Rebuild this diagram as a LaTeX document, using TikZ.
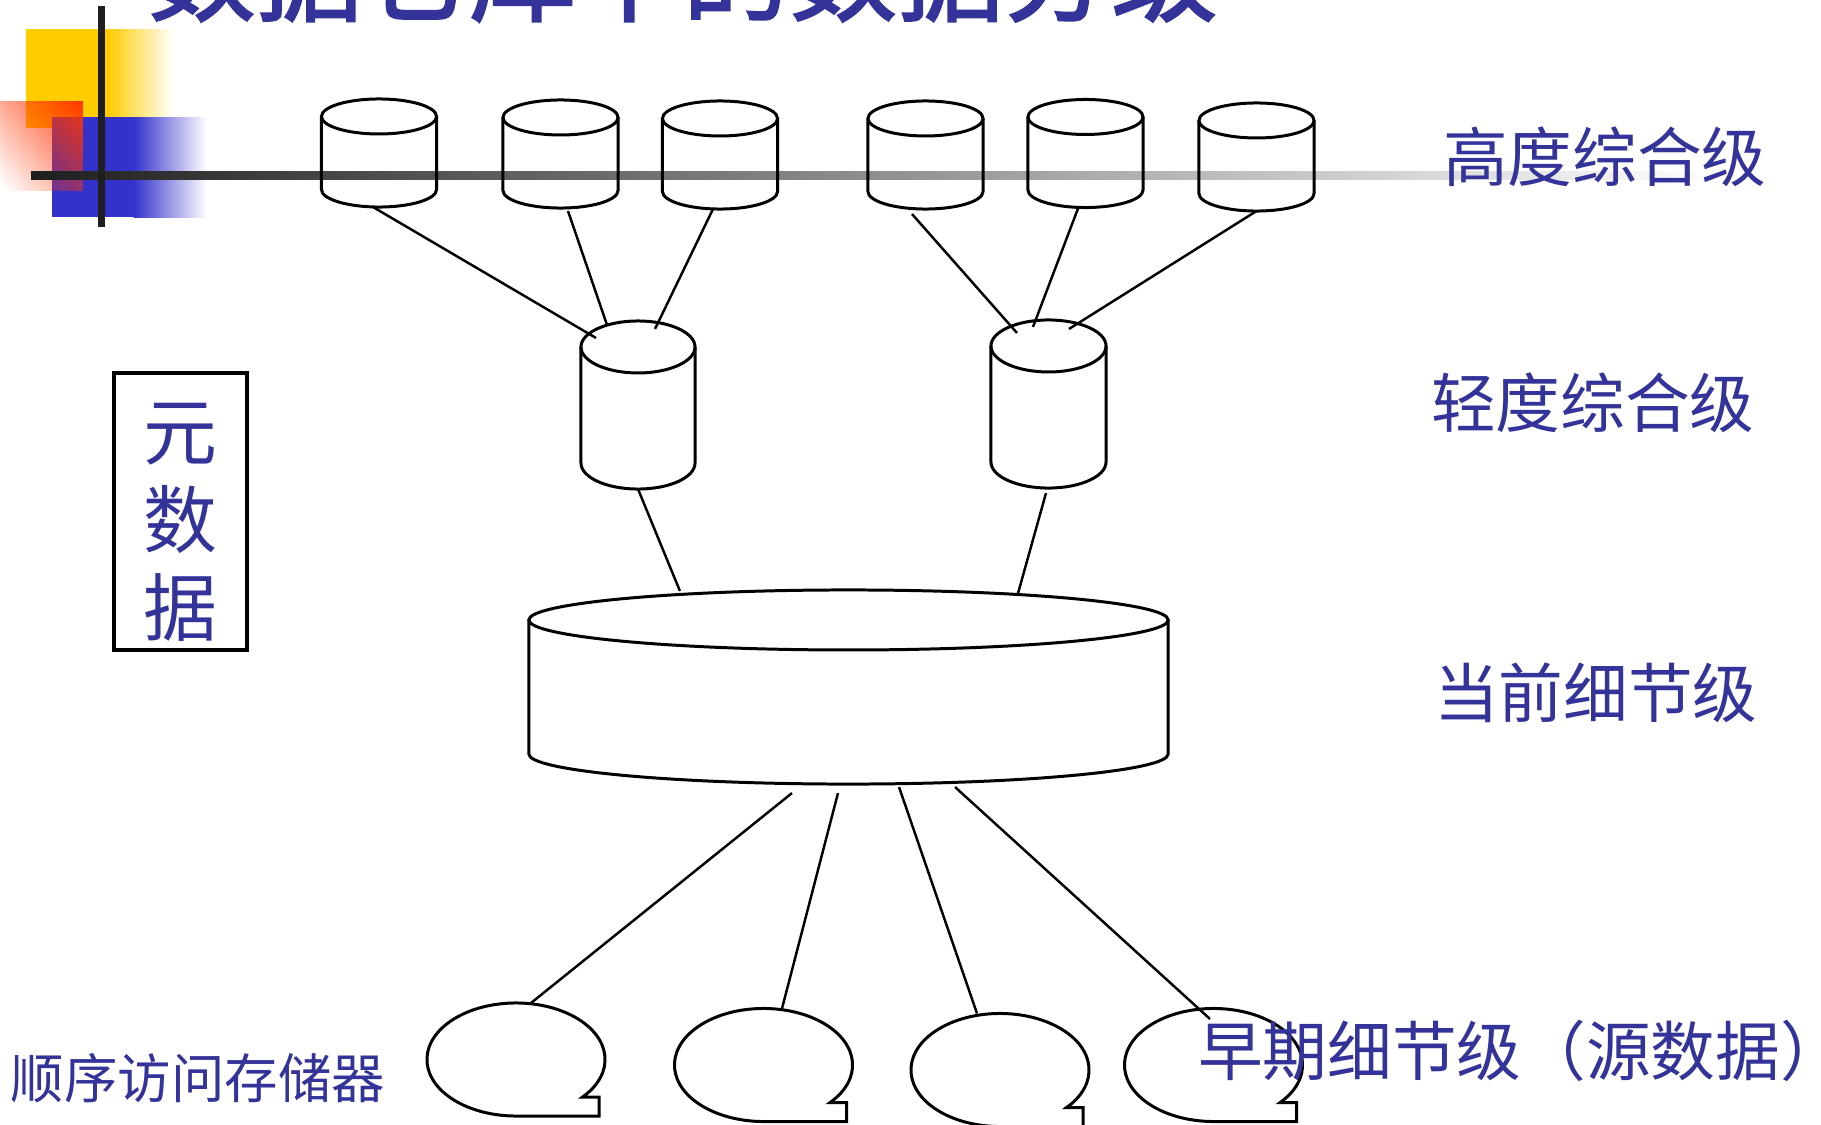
\documentclass[tikz,border=0pt]{standalone}
\usepackage{fontspec}
\setmainfont{Noto Sans CJK SC}
\newfontfamily\titlefont[FakeBold=2]{Noto Sans CJK SC}
\usetikzlibrary{shadings,fadings}

\definecolor{ink}{HTML}{333399}
\definecolor{gold}{HTML}{FFCC00}
\definecolor{royal}{HTML}{3333CC}
\definecolor{flame}{HTML}{FF3300}
\definecolor{bar}{HTML}{1F1F1F}

\tikzfading[name=redfade, upper right=transparent!0, upper left=transparent!55,
  lower right=transparent!50, lower left=transparent!100]

\tikzset{
  hold/.style={inner sep=0, outer sep=0},
  rim/.style={line width=0.85pt},
  wire/.style={line width=0.7pt},
  lvl/.style={hold, text=ink, font=\fontsize{18.4}{22}\selectfont},
}

\begin{document}
\begin{tikzpicture}[x=0.01cm, y=-0.01cm]
\useasboundingbox (0,0) rectangle (1821,1124);

\def\drum#1#2#3#4#5{
  \node[hold, minimum width=#3, minimum height=#4] (#1) at #2 {};
  \draw[rim] ([yshift=-#5]#1.north) ellipse[x radius=#3/2, y radius=#5];
  \draw[rim] ([yshift=-#5]#1.north west) -- ([yshift=#5]#1.south west)
    arc[start angle=180, end angle=360, x radius=#3/2, y radius=#5]
    -- ([yshift=-#5]#1.north east);
}
\def\tape#1#2{
  \node[hold, minimum width=1.78cm, minimum height=1.13cm] (#1) at #2 {};
  \draw[rim] (#1.south) -- ++(0.83cm,0) -- ++(0,0.19cm) -- ++(-0.1645cm,0)
    arc[start angle=-41.6, end angle=270, x radius=0.89cm, y radius=0.565cm] -- cycle;
}

% Corner decoration
\fill[gold] (26,29) rectangle (108,128);
\shade[left color=gold, right color=white] (107.5,29) rectangle (173,128);
\fill[royal] (52,117) rectangle (134,217);
\shade[left color=royal, right color=white] (133.5,117) rectangle (207,217);
\fill[flame, path fading=redfade] (0,101) rectangle (83,191);
\shade[left color=bar, right color=white] (31,171) rectangle (1720,179);
\fill[bar] (98,6) rectangle (105,227);

\node[hold, anchor=base, text=ink, font=\titlefont\fontsize{30.4}{34}\selectfont] (title) at (683,13) {数据仓库中的数据分级};

% Draw the levels
\foreach \n/\x/\y in {h1/379/153, h2/560.5/154, h3/720/155, h4/925.5/155, h5/1085.5/153.5, h6/1256.5/157}
  {\drum{\n}{(\x,\y)}{1.15cm}{1.08cm}{0.175cm}}

\drum{l1}{(638,405)}{1.14cm}{1.68cm}{0.26cm}
\drum{l2}{(1048.5,404)}{1.15cm}{1.68cm}{0.26cm}

\drum{cur}{(848.5,687)}{6.39cm}{1.94cm}{0.30cm}

\tape{t1}{(516,1059.5)}
\tape{t2}{(763.5,1065)}
\tape{t3}{(1000,1070)}
\tape{t4}{(1213.5,1065)}

\draw[wire] ([xshift=-0.06cm]h1.south) -- ([xshift=-0.42cm,yshift=-0.17cm]l1.north);
\draw[wire] ([xshift=0.075cm,yshift=-0.03cm]h2.south) -- ([xshift=-0.31cm,yshift=-0.04cm]l1.north);
\draw[wire] ([xshift=-0.07cm]h3.south) -- ([xshift=0.17cm,yshift=-0.08cm]l1.north);
\draw[wire] ([xshift=-0.135cm,yshift=-0.05cm]h4.south) -- ([xshift=-0.315cm,yshift=-0.13cm]l2.north);
\draw[wire] ([xshift=-0.075cm,yshift=-0.01cm]h5.south) -- ([xshift=-0.155cm,yshift=-0.07cm]l2.north);
\draw[wire] (h6.south) -- ([xshift=0.205cm,yshift=-0.09cm]l2.north);

\draw[wire] (l1.south) -- ([xshift=-1.685cm,yshift=-0.01cm]cur.north);
\draw[wire] ([xshift=-0.025cm,yshift=-0.05cm]l2.south) -- ([xshift=1.695cm,yshift=-0.03cm]cur.north);

\draw[wire] ([xshift=-0.565cm,yshift=-0.09cm]cur.south) -- ([xshift=0.15cm]t1.north);
\draw[wire] ([xshift=-0.105cm,yshift=-0.09cm]cur.south) -- ([xshift=0.185cm]t2.north);
\draw[wire] ([xshift=0.505cm,yshift=-0.03cm]cur.south) -- ([xshift=-0.23cm]t3.north);
\draw[wire] ([xshift=1.065cm,yshift=-0.03cm]cur.south) -- ([xshift=-0.035cm,yshift=-0.105cm]t4.north);

% Labels
\node[draw, line width=1pt, hold, minimum width=1.33cm, minimum height=2.77cm] (meta) at (180.5,511.5) {};
\node[hold, text=ink, align=center, font=\fontsize{21}{25}\selectfont] (metatext)
  at ([yshift=-0.105cm]meta.center) {元\\数\\据};

\node[lvl, anchor=west] (hi) at (1443,157) {高度综合级};
\node[lvl, anchor=west] (lo) at (1431,403) {轻度综合级};
\node[lvl, anchor=west] (cd) at (1434,693) {当前细节级};
\node[lvl, anchor=west] (old) at (1198,1051) {早期细节级\makebox[1em]{（}源数据\makebox[1em]{）}};
\node[lvl, anchor=west, font=\fontsize{15.2}{18}\selectfont] (seq) at (11,1078) {顺序访问存储器};

\end{tikzpicture}
\end{document}
